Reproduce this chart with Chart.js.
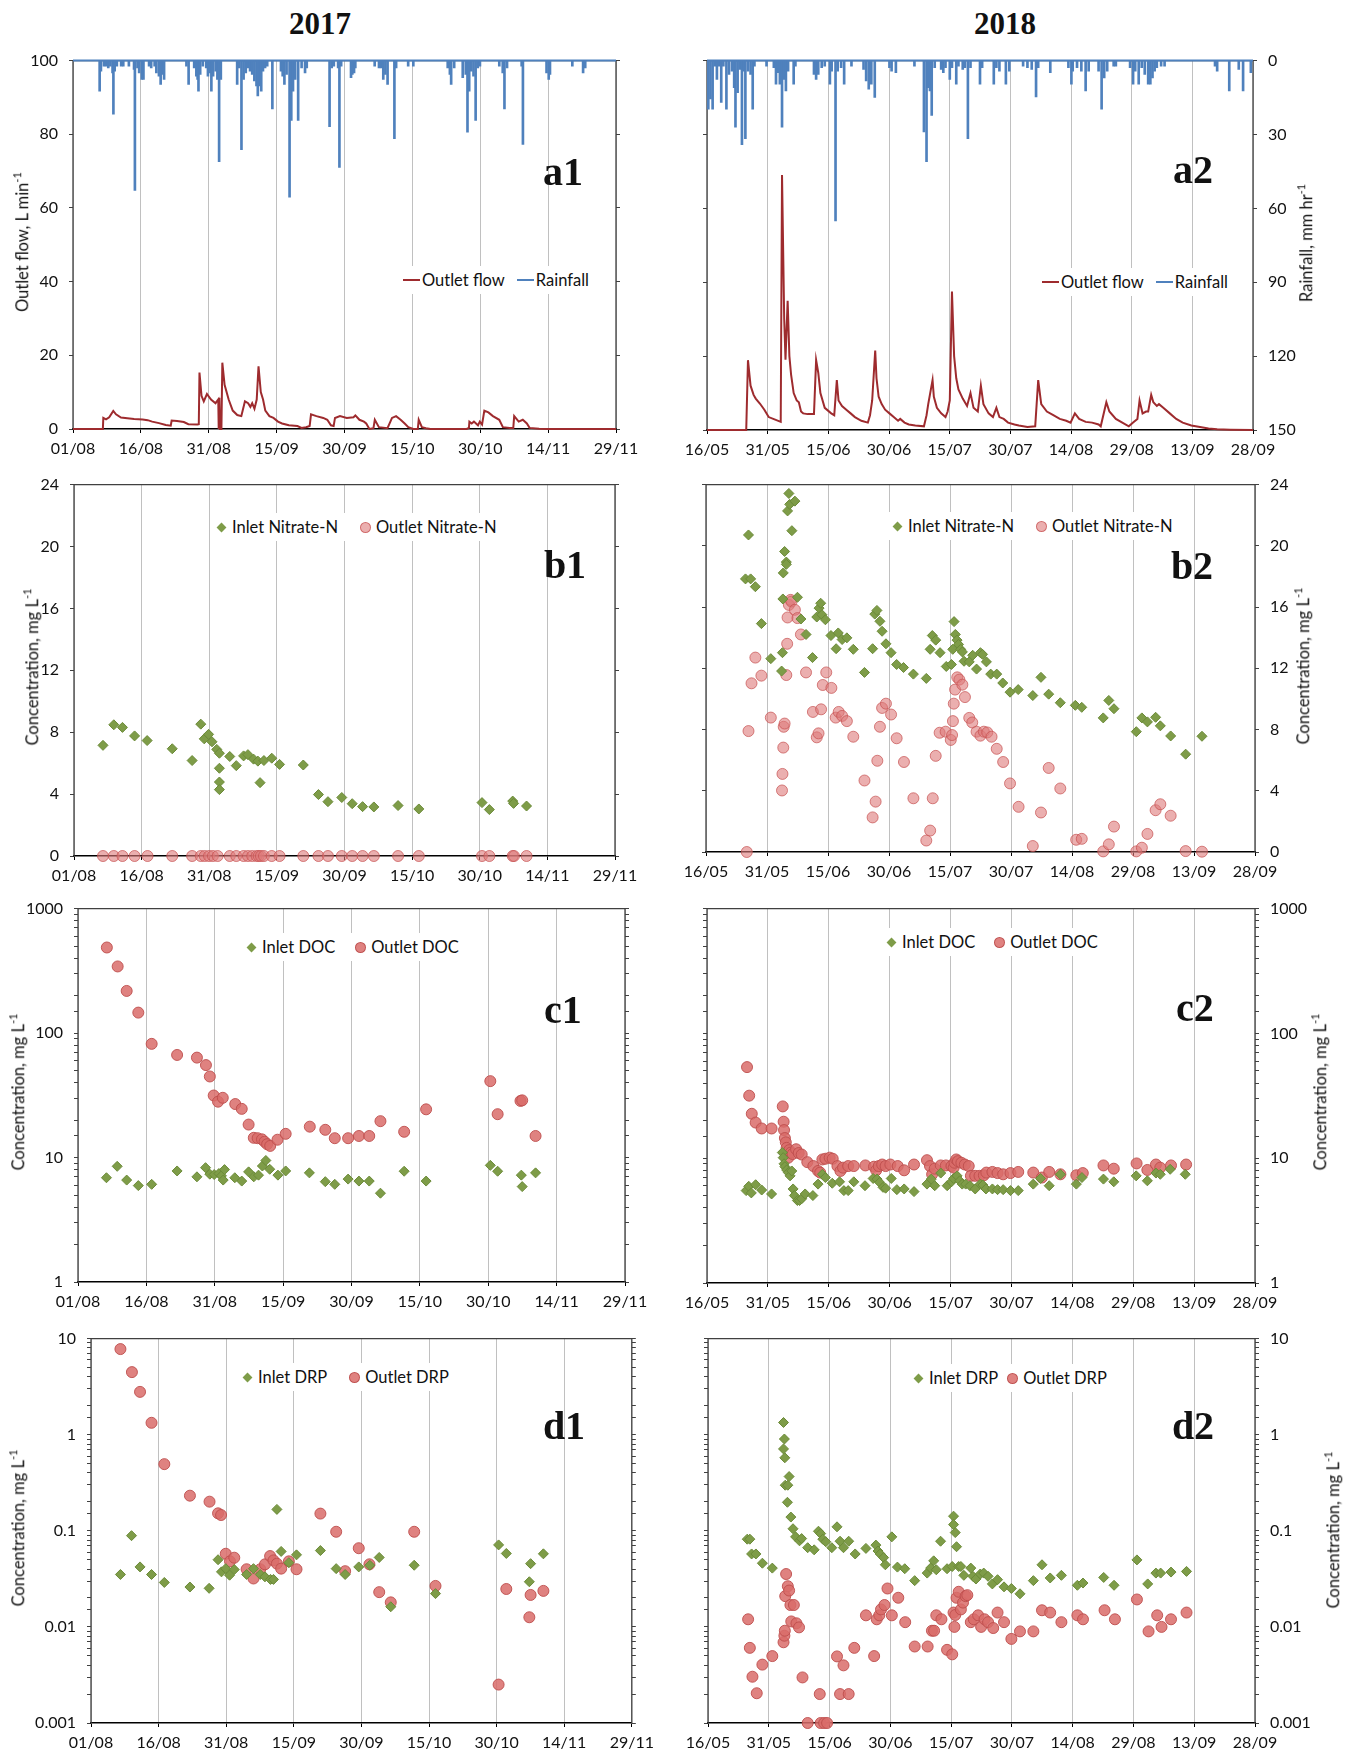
<!DOCTYPE html>
<html>
<head>
<meta charset="utf-8">
<script src="https://cdn.jsdelivr.net/npm/chart.js@4.4.1/dist/chart.umd.min.js"></script>
<style>
  body { margin: 0; background: #fff; }
  #page { position: relative; width: 1348px; height: 1754px; overflow: hidden; font-family: Lato, "Open Sans", sans-serif; color: #111; }
  canvas.panel { position: absolute; }
  .year { position: absolute; font: bold 31px "Liberation Serif", "Times New Roman", serif; transform: translate(-50%, -50%); }
  .tag { position: absolute; font: bold 40px "Liberation Serif", "Times New Roman", serif; transform: translate(-50%, -50%); line-height: 1; }
  .ytitle { position: absolute; font-size: 16.5px; white-space: nowrap; transform: translate(-50%, -50%) rotate(-90deg); }
  .ytitle sup { font-size: 11px; }
  .legend { position: absolute; background: #fff; font-size: 16.5px; white-space: nowrap; display: flex; align-items: center; padding: 4px 6px; transform: translateY(-50%); }
  .legend .mk { display: inline-block; margin-right: 5px; flex: none; }
</style>
</head>
<body>
<div id="page"></div>
<script>
// giorno 0 = primo tick di ogni anno (01/08/2017, 16/05/2018)
const TICKS_2017 = ['01/08', '16/08', '31/08', '15/09', '30/09', '15/10', '30/10', '14/11', '29/11'];
const TICKS_2018 = ['16/05', '31/05', '15/06', '30/06', '15/07', '30/07', '14/08', '29/08', '13/09', '28/09'];
const FLOW_TICKS = [0, 20, 40, 60, 80, 100];
const RAIN_TICKS = [0, 30, 60, 90, 120, 150];
const NITRATE_TICKS = [0, 4, 8, 12, 16, 20, 24];
const DOC_TICKS = [1, 10, 100, 1000];
const DRP_TICKS = [0.001, 0.01, 0.1, 1, 10];

const FLOW_2017 = [[0,0],[6.6,0],[6.7,3.0],[7.3,2.6],[8.0,3.2],[8.9,4.9],[9.5,4.0],[10.6,3.1],[12,2.9],[13.5,2.7],[15.4,2.6],[16.5,2.4],[17.5,2.0],[19,1.6],[20.5,1.1],[21.6,0.9],[21.8,2.3],[23,2.2],[24.5,1.9],[25.5,1.3],[27.5,1.2],[27.8,1.3],[27.95,15.3],[28.4,9.0],[28.9,7.5],[29.6,9.5],[30.5,8.0],[31.5,7.0],[32.1,8.0],[32.2,0],[32.35,8.5],[32.5,0],[32.8,0],[33.0,18.0],[33.5,12.0],[34.4,8.0],[35.3,5.0],[36.3,3.8],[37.2,3.5],[37.5,5.0],[38.0,7.5],[38.7,7.0],[39.2,6.0],[39.6,7.0],[40.1,5.5],[40.6,8.0],[41.0,17.0],[41.5,10.0],[42.0,8.0],[42.5,5.0],[43.4,3.5],[44.3,3.0],[45.3,2.0],[46.2,1.5],[47.7,1.0],[49.6,0.8],[50.5,0.3],[51.5,0.5],[52.3,0.8],[52.6,4.0],[53.8,3.5],[55.3,3.0],[56.2,2.5],[57.0,1.0],[57.6,0.8],[57.9,3.0],[59.0,3.5],[60.5,3.0],[62.0,3.2],[62.4,3.7],[63.3,2.5],[64.3,2.0],[64.8,1.5],[65.5,0],[66.4,0.2],[66.7,2.5],[67.6,0.5],[69.5,0.2],[70.5,3.0],[71.4,3.5],[72.4,2.5],[73.3,1.5],[74.1,0.5],[75.2,0],[76.2,0],[76.4,2.5],[77.1,0.5],[78,0.2],[79,0],[87.0,0],[87.5,0.3],[87.6,2.0],[88.1,1.5],[88.6,2.0],[89.5,1.0],[89.9,2.0],[90.4,1.2],[90.9,5.0],[91.8,4.5],[92.8,3.5],[94.2,2.5],[95.0,0.5],[96.5,0.3],[97.3,0.3],[97.5,3.5],[98.5,2.0],[99.4,2.5],[100.3,1.5],[100.9,0.3],[103,0.1],[105,0],[120,0]];

const RAIN_2017 = [[5.89,12.4],[6.17,4.3],[6.84,2.3],[7.31,2.3],[7.79,3.0],[8.26,2.3],[8.74,5.0],[8.93,21.8],[9.21,4.3],[9.69,2.3],[10.64,2.3],[11.11,2.3],[12.35,2.3],[13.49,3.6],[13.68,52.9],[14.25,3.0],[14.62,5.0],[15.19,7.7],[15.57,7.7],[16.81,2.3],[17.28,3.0],[18.04,2.3],[18.42,5.0],[18.99,6.3],[19.37,9.7],[19.75,5.6],[20.13,7.7],[25.07,2.3],[25.55,9.7],[26.78,3.0],[27.26,6.3],[27.54,7.7],[27.73,12.4],[28.11,5.6],[28.68,2.3],[29.44,3.0],[29.82,6.3],[30.2,5.0],[30.58,12.4],[30.96,6.3],[31.53,4.3],[31.91,7.7],[32.29,41.2],[32.67,7.7],[36.28,9.7],[36.75,3.0],[37.23,36.3],[37.7,7.7],[38.18,5.0],[38.65,3.0],[39.13,4.3],[39.6,5.6],[40.08,8.3],[40.55,10.3],[40.84,14.4],[41.22,10.3],[41.6,12.4],[41.98,4.3],[42.45,3.0],[42.92,2.3],[44.06,19.7],[45.96,4.3],[46.34,6.3],[46.72,9.7],[47.2,5.6],[47.86,55.6],[48.24,24.4],[48.62,12.4],[49.1,7.7],[49.76,24.4],[50.52,3.0],[51.28,5.0],[51.66,3.0],[56.7,26.9],[57.17,3.0],[57.64,2.3],[58.59,3.0],[58.88,43.5],[59.26,2.3],[61.44,7.0],[61.73,5.6],[62.11,5.0],[62.39,3.0],[66.67,2.3],[67.62,3.0],[68.09,3.0],[68.57,7.7],[69.04,5.6],[69.52,9.7],[71.03,31.8],[71.41,3.0],[74.07,2.3],[75.21,2.3],[82.81,3.0],[83.29,5.6],[83.57,9.7],[84.24,3.0],[86.13,7.0],[86.8,5.6],[87.18,29.1],[87.56,12.4],[88.03,4.3],[88.51,6.3],[88.98,24.4],[89.46,3.0],[89.93,2.3],[94.21,2.3],[94.97,5.0],[95.35,19.7],[95.92,3.0],[99.15,2.3],[99.43,34.1],[104.65,5.0],[105.13,7.7],[105.41,5.6],[110.35,2.3],[112.73,5.0],[113.2,3.0]];

const FLOW_2018 = [[0,0],[9.7,0],[10.13,18.9],[10.77,12],[11.52,9.5],[12.05,8.5],[13.12,7.1],[14.18,5.5],[15.25,3.5],[16.85,2.8],[18.23,2.2],[18.55,69],[19.09,30],[19.41,19],[19.94,35],[20.37,20],[20.79,15],[21.43,10],[22.18,8],[22.71,7.5],[23.25,5],[23.78,4.5],[24.85,4.3],[26.45,4.3],[26.98,18.9],[27.51,15.5],[28.04,10],[29.11,6],[30.71,4.5],[31.46,4],[32.1,13.5],[32.52,8],[33.38,6.5],[34.44,5.5],[35.51,4.5],[36.57,3.5],[38.17,2.5],[39.77,2],[40.31,4],[40.84,8],[41.59,21.5],[41.91,14],[42.44,9],[43.19,7],[44.04,5.5],[45.11,4.5],[46.17,3.5],[47.24,2.5],[47.77,3],[48.84,2],[49.9,1.5],[51.5,1.2],[53.64,1],[54.28,4],[54.7,7],[55.77,13.5],[56.09,9],[56.84,6],[57.9,4.5],[58.97,3.5],[59.5,5],[60.03,8],[60.57,37.5],[61.1,20],[61.63,14],[62.17,11],[63.23,8.5],[64.3,6.5],[65.15,10],[65.9,6],[66.96,5],[67.71,12],[68.35,7],[69.63,4.5],[70.7,3.5],[71.55,6],[72.3,3.5],[73.36,3],[74.43,2],[76.03,1.5],[77.1,1.2],[79.23,0.8],[81.15,1],[81.89,13.5],[82.64,7],[84.03,5],[85.63,4],[87.23,3],[88.82,2.5],[89.89,2],[90.96,4.5],[92.02,3],[93.62,2.2],[95.22,2],[96.82,1.5],[97.35,1],[98.74,7.5],[99.49,5],[101.09,3],[102.69,2],[104.29,1],[105.35,2],[106.42,3],[106.95,8],[107.7,4.5],[108.55,5],[109.08,5],[109.83,9.5],[110.36,7.5],[111.22,6.5],[111.75,7],[112.82,6],[114.42,4.5],[116.02,3],[117.62,2],[119.75,1.2],[121.88,0.8],[124.01,0.4],[126.14,0.2],[129.34,0.1],[135,0]];

const RAIN_2018 = [[0.32,19.7],[0.85,15.6],[1.39,19.7],[1.92,2.3],[2.45,7.6],[2.99,2.3],[3.52,17],[4.05,2.3],[4.8,19.7],[5.44,5.6],[6.18,4.3],[6.72,11],[7.04,27],[7.57,13],[8.1,3.6],[8.64,34.1],[9.06,4.3],[9.49,31.7],[10.13,4.3],[10.77,5.6],[11.3,19.7],[11.73,2.3],[14.72,2.3],[16.53,2.9],[17.06,9.6],[17.59,4.9],[18.02,9.6],[18.55,27],[18.98,7.6],[19.51,12.3],[20.05,4.3],[21.43,9.6],[21.86,2.3],[26.45,5.6],[26.98,7.6],[27.51,5.6],[28.36,2.9],[29.11,2.3],[30.39,9.6],[30.82,4.3],[31.78,65.1],[32.31,4.3],[33.16,2.9],[33.91,9.6],[35.72,2.3],[38.71,3.6],[39.35,8.3],[39.99,11.6],[40.63,9.6],[41.48,15],[45.11,2.9],[45.64,4.3],[46.7,4.9],[51.29,2.3],[53.64,29],[54.28,41],[54.7,11],[55.13,12.3],[55.56,22.3],[56.3,2.9],[57.9,3.6],[58.43,4.9],[58.97,2.9],[60.03,7.6],[60.57,2.9],[61.63,9.6],[62.17,2.3],[63.23,3.6],[63.77,2.9],[64.51,31.7],[65.15,2.9],[67.5,9.6],[68.03,2.9],[70.91,9.6],[71.55,2.9],[72.3,4.3],[73.9,9.6],[74.75,4.3],[78.16,2.3],[79.23,2.9],[80.29,3.6],[81.36,14.7],[81.89,2.9],[84.88,4.9],[89.36,2.9],[90.1,9.6],[90.42,4.3],[91.49,2.9],[92.56,4.3],[93.62,12.3],[94.37,4.3],[96.82,4.3],[97.57,19.7],[98.21,7],[98.95,4.3],[100.55,2.3],[101.09,2.3],[104.61,2.9],[105.35,9.6],[105.88,4.3],[106.74,9.6],[107.49,2.9],[108.23,5.6],[109.08,9.6],[109.62,9.6],[110.15,7],[110.68,4.3],[111.22,2.9],[112.28,2.3],[113.14,2.3],[125.61,2.3],[126.14,4.3],[129.13,12.3],[131.48,3.6],[132.55,12.3],[134.47,4.9]];

const NITRATE_IN_2017 = [[6.43,7.15],[8.83,8.48],[10.75,8.31],[13.44,7.76],[16.22,7.46],[21.79,6.93],[26.2,6.17],[28.12,8.52],[28.89,7.57],[29.85,7.86],[30.61,7.38],[31.67,6.89],[32.25,6.64],[32.25,5.67],[32.25,4.78],[32.25,4.29],[34.55,6.43],[35.99,5.84],[37.62,6.47],[38.58,6.55],[39.83,6.26],[40.79,6.13],[41.27,4.74],[42.13,6.17],[43.86,6.32],[45.59,5.92],[50.86,5.88],[54.22,3.97],[56.33,3.51],[59.4,3.78],[61.71,3.38],[64.01,3.19],[66.51,3.17],[71.88,3.26],[76.49,3.04],[90.5,3.45],[92.13,3.0],[97.31,3.55],[97.5,3.4],[100.38,3.23]];
const NITRATE_OUT_2017 = [[6.43,0],[8.83,0],[10.75,0],[13.44,0],[16.31,0],[21.79,0],[26.2,0],[28.12,0],[28.98,0],[29.94,0],[30.81,0],[31.86,0],[34.55,0],[35.99,0],[37.62,0],[38.58,0],[39.54,0],[40.5,0],[40.98,0],[41.46,0],[42.13,0],[43.86,0],[45.59,0],[50.86,0],[54.22,0],[56.33,0],[59.4,0],[61.71,0],[64.01,0],[66.51,0],[71.88,0],[76.49,0],[90.5,0],[92.13,0],[97.31,0],[97.6,0],[100.38,0]];

const NITRATE_IN_2018 = [[10.45,20.71],[9.71,17.84],[10.98,17.84],[12.14,17.33],[13.62,14.92],[15.94,12.63],[18.8,13.02],[18.59,11.82],[18.9,16.53],[19.0,18.23],[19.33,19.63],[19.75,18.94],[19.75,18.79],[20.06,22.28],[20.38,23.42],[20.59,22.71],[21.12,20.99],[21.86,22.92],[22.49,16.64],[23.34,15.22],[24.6,14.21],[26.19,12.7],[27.24,15.35],[27.8,15.93],[28.2,16.25],[28.51,15.5],[29.36,15.17],[30.73,14.14],[32.0,13.28],[32.52,14.31],[33.47,13.88],[34.64,13.99],[36.22,13.24],[38.97,11.73],[40.97,13.28],[41.5,15.54],[42.03,15.78],[42.77,15.07],[43.3,14.42],[44.25,13.6],[45.51,13.02],[46.88,12.25],[48.57,12.05],[51.0,11.62],[54.17,11.34],[55.12,13.24],[55.65,14.14],[56.49,13.84],[57.55,13.02],[59.08,12.12],[60.35,12.25],[60.68,13.24],[61.0,15.05],[61.31,14.21],[61.73,13.84],[62.09,13.56],[62.62,13.24],[63.04,13.07],[63.46,12.46],[64.73,12.42],[65.58,12.85],[66.53,11.95],[67.48,13.02],[68.0,12.91],[68.95,12.42],[70.01,11.62],[71.49,11.62],[72.97,11.04],[74.77,10.44],[76.77,10.61],[80.36,10.22],[82.37,11.41],[84.27,10.31],[87.12,9.75],[90.82,9.58],[92.4,9.45],[97.68,8.76],[99.05,9.9],[100.32,9.36],[105.81,7.86],[107.18,8.76],[108.55,8.5],[110.56,8.8],[111.72,8.24],[114.26,7.58],[117.95,6.39],[121.96,7.56]];
const NITRATE_OUT_2018 = [[10.03,0],[10.45,7.9],[11.19,11.02],[12.14,12.7],[13.62,11.52],[15.94,8.78],[18.69,4.02],[18.8,5.1],[19.0,6.82],[19.11,8.18],[19.33,8.39],[19.75,11.56],[19.96,13.6],[20.06,15.32],[20.38,16.14],[20.8,16.47],[21.01,16.36],[21.86,15.82],[22.49,15.28],[23.34,14.21],[24.6,11.73],[26.29,9.15],[27.24,7.49],[27.67,7.75],[28.3,9.32],[28.72,10.91],[29.57,11.73],[30.83,10.72],[31.89,8.78],[32.63,9.15],[33.47,8.89],[34.64,8.55],[36.22,7.53],[38.97,4.67],[40.97,2.26],[41.71,3.29],[42.13,5.96],[42.77,8.18],[43.3,9.41],[44.25,9.69],[45.51,8.98],[46.88,7.43],[48.68,5.88],[51.0,3.51],[54.17,0.75],[55.12,1.4],[55.76,3.51],[56.49,6.28],[57.45,7.79],[58.92,7.86],[60.19,7.32],[60.51,7.64],[60.72,8.55],[60.93,9.69],[61.25,10.61],[61.78,11.41],[62.3,11.26],[63.04,10.93],[63.68,10.12],[64.73,8.76],[65.47,8.46],[66.53,7.86],[67.48,7.6],[68.32,7.86],[69.17,7.81],[70.22,7.53],[71.49,6.74],[73.07,5.88],[74.76,4.48],[76.87,2.95],[80.36,0.39],[82.37,2.58],[84.27,5.49],[87.12,4.15],[91.03,0.8],[92.4,0.86],[97.68,0.04],[99.05,0.5],[100.32,1.66],[105.81,0.04],[107.18,0.28],[108.55,1.18],[110.56,2.73],[111.72,3.12],[114.26,2.37],[117.95,0.06],[121.96,0.02]];

const DOC_IN_2017 = [[6.24,6.88],[8.6,8.5],[10.68,6.59],[13.23,5.95],[16.16,6.09],[21.74,7.8],[26.09,7.0],[27.98,8.29],[28.92,7.35],[29.87,7.3],[30.91,7.44],[31.47,7.13],[31.85,6.59],[32.14,8.0],[34.4,6.88],[35.92,6.47],[37.43,7.67],[38.56,7.0],[39.6,7.22],[40.45,8.55],[41.21,9.47],[42.06,8.05],[43.86,7.22],[45.56,7.8],[50.76,7.53],[54.25,6.4],[56.33,6.09],[59.26,6.71],[61.63,6.47],[63.89,6.47],[66.35,5.17],[71.55,7.76],[76.37,6.47],[90.45,8.65],[92.06,7.76],[97.26,7.22],[97.45,5.84],[100.38,7.53]];
const DOC_OUT_2017 = [[6.33,487],[8.7,343],[10.68,218],[13.23,146],[16.16,81.9],[21.74,66.7],[26.09,63.5],[28.07,55.3],[28.92,44.8],[29.77,31.5],[30.72,28.1],[31.76,30.2],[34.5,26.9],[35.92,24.6],[37.43,18.4],[38.56,14.4],[39.41,14.3],[40.36,14.0],[40.93,13.4],[41.49,12.8],[42.16,12.4],[43.76,13.9],[45.56,15.5],[50.85,17.7],[54.25,16.7],[56.33,14.3],[59.26,14.3],[61.63,14.9],[63.89,14.9],[66.35,19.6],[71.55,16.1],[76.37,24.4],[90.45,41.1],[92.06,22.3],[97.07,28.5],[97.45,28.8],[100.38,14.9]];

const DOC_IN_2018 = [[9.65,5.5],[10.29,5.95],[10.92,5.27],[11.98,6.13],[13.47,5.56],[15.91,5.17],[18.56,11.1],[18.77,10.1],[18.98,9.02],[19.19,8.55],[19.62,8.05],[20.04,7.67],[20.47,7.22],[20.89,7.9],[21.21,5.67],[21.53,5.02],[22.27,4.58],[22.8,4.58],[23.33,4.73],[24.18,5.17],[26.09,5.02],[27.36,6.2],[28.42,7.43],[29.16,7.0],[30.86,6.3],[32.66,6.47],[33.72,5.5],[34.78,5.5],[36.16,6.47],[38.92,6.02],[40.93,6.88],[41.89,6.8],[42.52,6.4],[43.37,5.84],[44.0,5.75],[45.39,6.88],[46.77,5.6],[48.57,5.67],[51.0,5.4],[54.19,6.2],[55.25,6.8],[56.1,6.02],[57.58,7.6],[59.17,6.02],[60.23,6.47],[60.76,6.88],[61.61,7.22],[62.25,6.59],[62.88,6.2],[63.73,6.2],[64.79,6.02],[66.07,5.67],[67.34,6.2],[67.97,6.09],[68.72,5.67],[70.31,5.67],[71.58,5.6],[72.96,5.6],[74.76,5.5],[76.67,5.5],[80.38,6.2],[82.18,6.88],[84.3,6.02],[87.06,7.43],[90.99,6.2],[92.37,7.0],[97.67,6.8],[100.21,6.47],[105.73,7.22],[108.48,6.59],[110.6,7.6],[111.66,7.43],[114.1,8.15],[117.82,7.43]];
const DOC_OUT_2018 = [[9.86,53.7],[10.39,31.7],[11.03,22.7],[11.98,19.3],[13.47,17.3],[15.91,17.3],[18.66,26.0],[18.88,19.6],[18.98,16.8],[19.19,14.5],[19.41,13.4],[19.62,12.1],[19.83,11.0],[20.04,10.1],[20.25,11.6],[20.68,11.1],[21.1,10.8],[21.95,11.8],[22.59,11.0],[23.33,10.7],[24.71,9.3],[26.19,8.65],[27.36,7.9],[27.89,7.67],[28.42,9.77],[29.16,9.9],[30.22,10.1],[30.97,9.9],[32.13,8.65],[32.87,7.9],[33.51,8.4],[34.78,8.65],[36.16,8.65],[39.02,8.75],[41.14,8.55],[41.68,8.0],[42.31,8.65],[43.16,8.9],[44.0,8.65],[45.17,8.9],[46.98,8.65],[48.57,8.0],[51.0,8.9],[54.19,9.64],[54.93,8.65],[55.46,7.43],[56.1,8.24],[57.58,8.75],[58.85,8.75],[60.23,8.65],[60.76,8.4],[60.97,9.2],[61.4,9.77],[61.82,9.47],[62.67,9.2],[63.52,8.9],[64.48,8.65],[65.01,7.22],[66.07,7.22],[67.13,7.22],[68.19,7.3],[68.82,7.67],[70.31,7.76],[71.58,7.6],[72.96,7.43],[74.76,7.6],[76.67,7.76],[80.38,7.67],[82.5,7.0],[84.3,7.76],[87.06,7.43],[90.99,7.3],[92.58,7.6],[97.67,8.75],[100.21,8.24],[105.83,9.08],[108.48,8.05],[110.6,8.9],[111.66,8.4],[114.31,8.75],[118.03,8.9]];

const DRP_IN_2017 = [[6.53,0.0351],[8.99,0.089],[10.88,0.0421],[13.43,0.0351],[16.27,0.029],[21.95,0.026],[26.21,0.0252],[28.19,0.05],[28.95,0.0374],[29.9,0.0404],[30.75,0.0345],[31.79,0.0395],[34.53,0.0351],[36.05,0.0404],[37.56,0.0351],[38.6,0.0332],[39.83,0.0312],[40.49,0.0312],[41.25,0.167],[42.19,0.061],[43.9,0.0466],[45.6,0.0562],[50.9,0.0623],[54.4,0.0404],[56.39,0.0351],[59.41,0.0421],[61.87,0.0438],[63.95,0.0528],[66.51,0.0162],[71.71,0.0438],[76.44,0.0222],[90.44,0.0713],[92.15,0.0581],[97.26,0.0295],[97.54,0.0455],[100.38,0.0576]];
const DRP_OUT_2017 = [[6.53,7.78],[9.08,4.48],[10.88,2.79],[13.43,1.33],[16.27,0.494],[21.95,0.232],[26.3,0.201],[28.19,0.152],[28.86,0.146],[29.9,0.0577],[30.84,0.0481],[31.79,0.0525],[34.53,0.0398],[36.05,0.0319],[37.56,0.0398],[38.6,0.0448],[39.74,0.0546],[40.49,0.0492],[41.25,0.0455],[42.19,0.0404],[43.9,0.0481],[45.6,0.0398],[50.9,0.151],[54.4,0.0977],[56.39,0.038],[59.41,0.0659],[61.78,0.0448],[63.95,0.023],[66.51,0.018],[71.71,0.0977],[76.44,0.0267],[90.44,0.00251],[92.15,0.0248],[97.26,0.0126],[97.54,0.0215],[100.38,0.0237]];

const DRP_IN_2018 = [[9.69,0.0818],[10.33,0.0818],[10.76,0.0574],[11.82,0.0574],[13.42,0.046],[15.87,0.0409],[18.64,1.34],[18.85,0.902],[18.64,0.711],[18.96,0.575],[19.06,0.298],[19.7,0.298],[20.02,0.367],[19.6,0.198],[20.45,0.139],[20.98,0.105],[21.62,0.0865],[22.58,0.0787],[23.11,0.083],[24.6,0.0667],[26.2,0.0634],[27.26,0.099],[27.8,0.0935],[28.33,0.0818],[29.07,0.0769],[30.56,0.0667],[31.84,0.11],[32.59,0.0779],[33.44,0.0667],[34.72,0.0779],[36.32,0.0574],[38.98,0.0656],[41.43,0.071],[41.96,0.0616],[42.49,0.0574],[43.34,0.0526],[43.77,0.0443],[45.37,0.0865],[46.75,0.0419],[48.56,0.0403],[51.01,0.0303],[54.1,0.0363],[54.95,0.0409],[55.7,0.0487],[56.34,0.0393],[57.4,0.0779],[59.0,0.0403],[60.28,0.0425],[60.6,0.142],[60.6,0.116],[61.02,0.0958],[61.34,0.0683],[61.87,0.0425],[62.41,0.0425],[63.15,0.0344],[64.86,0.0409],[65.39,0.0336],[66.13,0.0315],[67.2,0.0355],[68.05,0.0363],[69.12,0.0336],[70.18,0.028],[71.46,0.031],[73.06,0.0261],[74.87,0.0251],[77.0,0.0221],[80.3,0.0303],[82.43,0.0443],[84.45,0.0323],[87.22,0.0344],[91.16,0.0271],[92.55,0.0286],[97.66,0.0327],[100.21,0.0271],[105.86,0.0498],[108.52,0.028],[110.54,0.0363],[111.71,0.0363],[114.27,0.0372],[118.1,0.0378]];
const DRP_OUT_2018 = [[9.9,0.012],[10.33,0.00605],[10.97,0.00303],[12.03,0.00204],[13.42,0.00405],[15.87,0.00497],[18.64,0.00692],[18.85,0.0081],[18.96,0.00912],[19.06,0.0209],[19.28,0.0355],[19.7,0.0265],[20.02,0.0239],[20.34,0.0169],[20.55,0.0114],[21.19,0.0169],[21.83,0.0109],[22.47,0.00989],[23.32,0.00298],[24.6,0.001],[27.58,0.002],[27.8,0.001],[28.65,0.001],[29.39,0.001],[31.84,0.00493],[32.59,0.002],[33.44,0.00398],[34.72,0.002],[36.1,0.00605],[38.98,0.0132],[41.0,0.00497],[41.64,0.012],[42.28,0.0132],[42.7,0.0152],[43.56,0.0169],[44.3,0.0251],[45.37,0.0132],[46.96,0.0201],[48.67,0.0112],[51.01,0.00625],[54.21,0.00625],[55.27,0.00912],[55.8,0.00912],[56.34,0.0132],[57.61,0.012],[59.0,0.00577],[60.28,0.00518],[60.6,0.0141],[60.81,0.01],[61.02,0.0133],[61.34,0.0201],[61.87,0.0232],[62.41,0.0152],[62.94,0.0179],[63.58,0.0209],[64.0,0.0214],[64.86,0.0112],[65.6,0.012],[66.67,0.0132],[67.41,0.01],[68.26,0.012],[69.12,0.0112],[70.39,0.00973],[71.46,0.0141],[73.06,0.0112],[74.87,0.0075],[77.0,0.00898],[80.3,0.00898],[82.43,0.0149],[84.45,0.0141],[87.22,0.0112],[91.16,0.0132],[92.55,0.012],[97.87,0.0149],[100.43,0.012],[105.86,0.0193],[108.73,0.00898],[110.86,0.0132],[111.93,0.01],[114.27,0.012],[118.1,0.0141]];

const TICK_FONT = { family: 'Lato', size: 16 };
const FLOW_RED = '#9e2b2e';
const RAIN_BLUE = '#4f81bd';
const INLET = { bg: '#7e9c48', border: '#6b8a38' };
const OUTLET_PALE = { bg: 'rgba(222,122,122,0.6)', border: 'rgba(198,80,80,0.7)' };
const OUTLET = { bg: 'rgba(217,108,106,0.85)', border: 'rgba(190,78,76,0.9)' };

// aree di disegno in px pagina: [left, top, right, bottom]; box = estensione verticale del canvas
const PANELS = [
  { tag: 'a1', side: 'L', kind: 'flow', area: [73, 56, 616, 429], box: [40, 462], tagAt: [563, 172],
    title: ['Outlet flow, L min', 21, 242], legend: [403, 280, 12] },
  { tag: 'a2', side: 'R', kind: 'flow', area: [707, 56, 1253, 430], box: [40, 462], tagAt: [1193, 170],
    title: ['Rainfall, mm hr', 1305, 243], legend: [1042, 282, 12] },
  { tag: 'b1', side: 'L', kind: 'nitrate', area: [74, 478, 615, 856], box: [464, 888], tagAt: [565, 565],
    title: ['Concentration, mg L', 31, 667], legend: [216, 527, 22] },
  { tag: 'b2', side: 'R', kind: 'nitrate', area: [706, 480, 1255, 852], box: [464, 888], tagAt: [1192, 566],
    title: ['Concentration, mg L', 1302, 666], legend: [892, 526, 22] },
  { tag: 'c1', side: 'L', kind: 'doc', area: [78, 902, 625, 1282], box: [888, 1316], tagAt: [563, 1010],
    title: ['Concentration, mg L', 17, 1092], legend: [246, 947, 20] },
  { tag: 'c2', side: 'R', kind: 'doc', area: [707, 902, 1255, 1283], box: [888, 1316], tagAt: [1195, 1008],
    title: ['Concentration, mg L', 1319, 1092], legend: [886, 942, 19] },
  { tag: 'd1', side: 'L', kind: 'drp', area: [91, 1333, 638, 1723], box: [1318, 1754], tagAt: [564, 1426],
    title: ['Concentration, mg L', 17, 1528], legend: [242, 1377, 22] },
  { tag: 'd2', side: 'R', kind: 'drp', area: [708, 1334, 1255, 1723], box: [1318, 1754], tagAt: [1193, 1426],
    title: ['Concentration, mg L', 1332, 1530], legend: [913, 1378, 9] },
];

const pts = (arr) => arr.map(([x, y]) => ({ x, y }));

function isTick(v, list) {
  return list.find((t) => Math.abs(v - t) <= t * 1e-6 + 1e-9);
}

function valueAxis(position, list, opts) {
  const log = !!opts.log;
  return {
    type: log ? 'logarithmic' : 'linear',
    position,
    min: list[0],
    max: list[list.length - 1],
    reverse: !!opts.reverse,
    ticks: {
      stepSize: log ? undefined : list[1] - list[0],
      autoSkip: false,
      padding: 11,
      color: '#111',
      font: TICK_FONT,
      callback: (v) => {
        if (!opts.labels) return '';
        const t = isTick(v, list);
        return t === undefined ? '' : String(t);
      },
    },
    grid: { drawOnChartArea: false, tickLength: 4, color: '#404040', lineWidth: 1 },
    border: { display: false },
    afterFit: (s) => { s.width = opts.width; },
  };
}

function dayAxis(days, labels, height) {
  return {
    type: 'linear',
    position: 'bottom',
    min: 0,
    max: days,
    offset: false,
    ticks: {
      stepSize: 15, autoSkip: false, maxRotation: 0, minRotation: 0, padding: 6,
      color: '#111', font: TICK_FONT,
      callback: (v) => labels[Math.round(v / 15)] ?? '',
    },
    grid: { color: '#c0c0c0', lineWidth: 1, tickLength: 4, tickColor: '#000', offset: false },
    border: { color: '#000', width: 1.6 },
    afterFit: (s) => { s.height = height; },
  };
}

const framePlugin = {
  id: 'frame',
  beforeDatasetsDraw(chart, args, opts) {
    const { ctx, chartArea: a } = chart;
    ctx.save();
    ctx.strokeStyle = '#404040';
    ctx.lineWidth = 1.3;
    ctx.beginPath();
    ctx.moveTo(a.left, a.bottom);
    ctx.lineTo(a.left, a.top);
    ctx.lineTo(a.right, a.top);
    ctx.lineTo(a.right, a.bottom);
    ctx.stroke();
    if (opts.topColor) {
      ctx.strokeStyle = opts.topColor;
      ctx.lineWidth = 2;
      ctx.beginPath();
      ctx.moveTo(a.left, a.top);
      ctx.lineTo(a.right, a.top);
      ctx.stroke();
    }
    ctx.restore();
  },
};

function scatterSet(label, data, style, pointStyle, radius) {
  return {
    type: 'scatter', label, data: pts(data), showLine: false, clip: false,
    pointStyle, pointRadius: radius, pointBackgroundColor: style.bg, pointBorderColor: style.border,
    pointBorderWidth: 1, yAxisID: 'y',
  };
}

function seriesFor(p, is17) {
  if (p.kind === 'flow') {
    return {
      datasets: [
        { type: 'line', label: 'Outlet flow', data: pts(is17 ? FLOW_2017 : FLOW_2018), borderColor: FLOW_RED,
          borderWidth: 2, pointRadius: 0, tension: 0, yAxisID: 'y', clip: false },
        { type: 'bar', label: 'Rainfall', data: pts(is17 ? RAIN_2017 : RAIN_2018), backgroundColor: RAIN_BLUE,
          barThickness: 2, yAxisID: 'y2' },
      ],
      legend: [['line', FLOW_RED, 'Outlet flow'], ['line', RAIN_BLUE, 'Rainfall']],
    };
  }
  const table = {
    nitrate: ['Nitrate-N', NITRATE_IN_2017, NITRATE_OUT_2017, NITRATE_IN_2018, NITRATE_OUT_2018, OUTLET_PALE],
    doc: ['DOC', DOC_IN_2017, DOC_OUT_2017, DOC_IN_2018, DOC_OUT_2018, OUTLET],
    drp: ['DRP', DRP_IN_2017, DRP_OUT_2017, DRP_IN_2018, DRP_OUT_2018, OUTLET],
  }[p.kind];
  const [name, in17, out17, in18, out18, outStyle] = table;
  return {
    datasets: [
      scatterSet('Inlet ' + name, is17 ? in17 : in18, INLET, 'rectRot', 5),
      scatterSet('Outlet ' + name, is17 ? out17 : out18, outStyle, 'circle', 5.5),
    ],
    legend: [['diamond', INLET, 'Inlet ' + name], ['circle', outStyle, 'Outlet ' + name]],
  };
}

function yScalesFor(p, leftW, rightW) {
  const left = p.side === 'L';
  if (p.kind === 'flow') {
    return {
      y: valueAxis('left', FLOW_TICKS, { labels: left, width: leftW }),
      y2: valueAxis('right', RAIN_TICKS, { labels: !left, width: rightW, reverse: true }),
    };
  }
  const list = { nitrate: NITRATE_TICKS, doc: DOC_TICKS, drp: DRP_TICKS }[p.kind];
  const log = p.kind !== 'nitrate';
  return {
    y: valueAxis(left ? 'left' : 'right', list, { labels: true, width: left ? leftW : rightW, log }),
    y2: valueAxis(left ? 'right' : 'left', list, { labels: false, width: left ? rightW : leftW, log }),
  };
}

function markHtml(kind, color) {
  if (kind === 'line') return `<span class="mk" style="width:17px;height:2.5px;background:${color};margin-right:2px"></span>`;
  if (kind === 'diamond') return `<span class="mk" style="width:7px;height:7px;background:${color.bg};transform:rotate(45deg);margin:0 7px 0 2px"></span>`;
  return `<span class="mk" style="width:11px;height:11px;border-radius:50%;background:${color.bg};border:1px solid ${color.border};box-sizing:border-box"></span>`;
}

function renderPanel(page, p) {
  const is17 = p.side === 'L';
  const [l, t, r, b] = p.area;
  const x0 = is17 ? 0 : 660;
  const x1 = is17 ? 660 : 1348;
  const [y0, y1] = p.box;

  const canvas = document.createElement('canvas');
  canvas.className = 'panel';
  canvas.width = x1 - x0;
  canvas.height = y1 - y0;
  canvas.style.left = x0 + 'px';
  canvas.style.top = y0 + 'px';
  canvas.style.width = (x1 - x0) + 'px';
  canvas.style.height = (y1 - y0) + 'px';
  page.appendChild(canvas);

  const series = seriesFor(p, is17);
  const scales = Object.assign(
    { x: dayAxis(is17 ? 120 : 135, is17 ? TICKS_2017 : TICKS_2018, y1 - b) },
    yScalesFor(p, l - x0, x1 - r)
  );

  new Chart(canvas, {
    type: 'scatter',
    data: { datasets: series.datasets },
    options: {
      responsive: false,
      animation: false,
      events: [],
      layout: { padding: { top: t - y0, left: 0, right: 0, bottom: 0 } },
      scales,
      plugins: {
        legend: { display: false },
        tooltip: { enabled: false },
        frame: { topColor: p.kind === 'flow' ? RAIN_BLUE : null },
      },
    },
    plugins: [framePlugin],
  });

  const lg = document.createElement('div');
  lg.className = 'legend';
  lg.style.left = (p.legend[0] - 6) + 'px';
  lg.style.top = p.legend[1] + 'px';
  lg.innerHTML = series.legend.map(([kind, color, text], i) =>
    `<span style="display:inline-flex;align-items:center;${i ? 'margin-left:' + p.legend[2] + 'px' : ''}">${markHtml(kind, color)}${text}</span>`
  ).join('');
  page.appendChild(lg);

  const tag = document.createElement('div');
  tag.className = 'tag';
  tag.style.left = p.tagAt[0] + 'px';
  tag.style.top = p.tagAt[1] + 'px';
  tag.textContent = p.tag;
  page.appendChild(tag);

  const tt = document.createElement('div');
  tt.className = 'ytitle';
  tt.style.left = p.title[1] + 'px';
  tt.style.top = p.title[2] + 'px';
  tt.innerHTML = `${p.title[0]}<sup>-1</sup>`;
  page.appendChild(tt);
}

(function init() {
  const page = document.getElementById('page');
  [['2017', 320, 24], ['2018', 1005, 24]].forEach(([txt, x, y]) => {
    const d = document.createElement('div');
    d.className = 'year';
    d.style.left = x + 'px';
    d.style.top = y + 'px';
    d.textContent = txt;
    page.appendChild(d);
  });
  PANELS.forEach((p) => renderPanel(page, p));
})();
</script>
</body>
</html>
